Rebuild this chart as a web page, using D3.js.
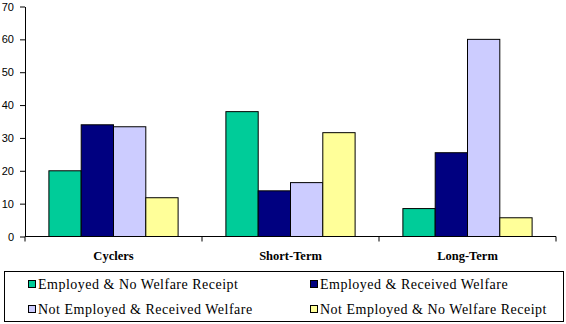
<!DOCTYPE html>
<html>
<head>
<meta charset="utf-8">
<script src="https://cdn.jsdelivr.net/npm/d3@7"></script>
<style>
  body { margin: 0; background: #fff; }
  svg { display: block; }
</style>
</head>
<body>
<div id="app"></div>
<script>
const categories = ['Cyclers', 'Short-Term', 'Long-Term'];
const seriesNames = [
  'Employed & No Welfare Receipt',
  'Employed & Received Welfare',
  'Not Employed & Received Welfare',
  'Not Employed & No Welfare Receipt'
];
const seriesColors = ['#00CC99', '#000080', '#CCCCFF', '#FFFF99'];
// one array per series, in category order
const empNoWelfare = [20, 38, 8.5];
const empWelfare = [34, 13.9, 25.5];
const notEmpWelfare = [33.4, 16.4, 60];
const notEmpNoWelfare = [11.8, 31.6, 5.7];
const yTicks = [0, 10, 20, 30, 40, 50, 60, 70];

const series = [empNoWelfare, empWelfare, notEmpWelfare, notEmpNoWelfare];

const SERIF = "'Times New Roman', 'Liberation Serif', 'DejaVu Serif', serif";
const W = 566, H = 324;
const svg = d3.select('#app').append('svg').attr('width', W).attr('height', H);

const x0 = d3.scaleBand().domain(categories).range([25, 556])
  .paddingInner(0.27).paddingOuter(0.135);
const x1 = d3.scaleBand().domain(d3.range(series.length)).range([0, x0.bandwidth()]);
const y = d3.scaleLinear().domain([0, 70]).range([236.5, 6.5]);

// bars
const g = svg.append('g');
categories.forEach((c, ci) => {
  g.selectAll(null).data(series).enter().append('rect')
    .attr('x', (d, si) => x0(c) + x1(si))
    .attr('y', d => y(d[ci]))
    .attr('width', x1.bandwidth())
    .attr('height', d => y(0) - y(d[ci]))
    .attr('fill', (d, si) => seriesColors[si])
    .attr('stroke', '#000')
    .attr('stroke-width', 1);
});

// y axis
const yAxis = svg.append('g').attr('transform', 'translate(25,0)')
  .call(d3.axisLeft(y).tickValues(yTicks).tickSize(5).tickSizeOuter(0).tickPadding(6));
yAxis.select('.domain').attr('stroke', '#000');
yAxis.selectAll('text').style('font-family', "'Liberation Sans', Arial, sans-serif")
  .style('font-size', '11px').attr('fill', '#000');

// x axis: line and ticks at category boundaries
const xBounds = [25, 202, 379, 556];
svg.append('line').attr('x1', 25).attr('x2', 556).attr('y1', y(0)).attr('y2', y(0))
  .attr('stroke', '#000');
svg.selectAll(null).data(xBounds).enter().append('line')
  .attr('x1', d => d).attr('x2', d => d)
  .attr('y1', y(0)).attr('y2', y(0) + 5).attr('stroke', '#000');

svg.selectAll(null).data(categories).enter().append('text')
  .attr('x', d => x0(d) + x0.bandwidth() / 2)
  .attr('y', 259.5)
  .attr('text-anchor', 'middle')
  .style('font-family', SERIF)
  .style('font-weight', 'bold')
  .style('font-size', '12.5px')
  .text(d => d);

// legend
svg.append('rect').attr('x', 4.5).attr('y', 271.5).attr('width', 559).attr('height', 50)
  .attr('fill', '#fff').attr('stroke', '#000');
const legPos = [[28, 280], [310, 280], [28, 305], [310, 305]];
const leg = svg.selectAll('.leg').data(seriesNames).enter().append('g')
  .attr('transform', (d, i) => `translate(${legPos[i][0]},${legPos[i][1]})`);
leg.append('rect').attr('x', 0.5).attr('y', 0.5).attr('width', 7).attr('height', 7)
  .attr('fill', (d, i) => seriesColors[i]).attr('stroke', '#000');
leg.append('text').attr('x', 10).attr('y', 8.5)
  .style('font-family', SERIF)
  .style('font-size', '14px')
  .style('letter-spacing', '0.5px')
  .text(d => d);
</script>
</body>
</html>
